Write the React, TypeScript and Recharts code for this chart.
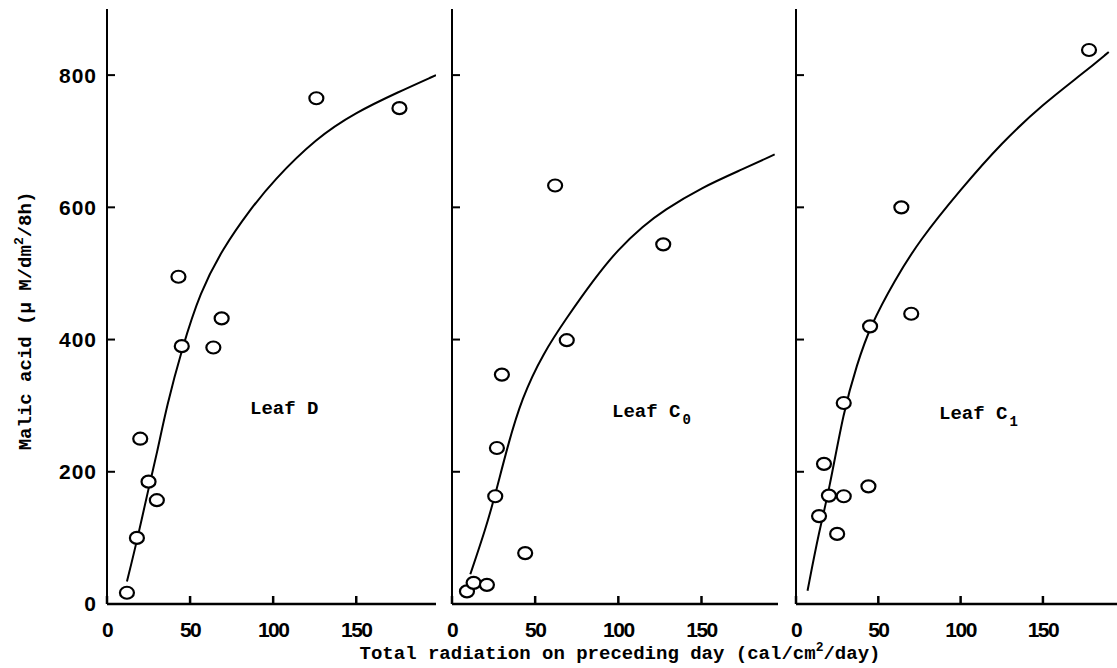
import { ComposedChart, Line, Scatter, XAxis, YAxis } from "recharts";

// Leaf D: measured points and fitted curve
const leafDX = [12, 18, 20, 25, 30, 43, 45, 64, 69, 126, 176];
const leafDY = [17, 100, 250, 185, 157, 495, 390, 388, 432, 765, 750];
const leafDFitX = [12, 18, 25, 30, 36, 45, 56, 70, 86, 100, 126, 150, 175, 198];
const leafDFitY = [34, 95, 175, 227, 300, 385, 472, 539, 596, 640, 705, 744, 774, 800];

// Leaf C0
const leafC0X = [9, 13, 21, 26, 27, 30, 44, 62, 69, 127];
const leafC0Y = [19, 32, 29, 163, 236, 347, 77, 633, 399, 544];
const leafC0FitX = [11, 20, 26, 33, 42, 55, 69, 85, 100, 115, 127, 150, 175, 194];
const leafC0FitY = [45, 112, 165, 235, 312, 380, 433, 490, 537, 572, 595, 630, 658, 680];

// Leaf C1
const leafC1X = [14, 17, 20, 25, 29, 29, 44, 45, 64, 70, 178];
const leafC1Y = [133, 212, 164, 106, 304, 163, 178, 420, 600, 439, 838];
const leafC1FitX = [7, 14, 20, 29, 37, 45, 60, 75, 100, 125, 150, 175, 190];
const leafC1FitY = [20, 110, 170, 293, 362, 420, 490, 550, 627, 698, 756, 804, 835];

const xTicks = [0, 50, 100, 150];
const yTicks = [0, 200, 400, 600, 800];

const toPoints = (xs: number[], ys: number[]) => xs.map((x, i) => ({ x, y: ys[i] }));

const tickFont = {
    fontFamily: "'Liberation Sans', Arial, sans-serif",
    fontSize: 21,
    fontWeight: 700,
    fill: "#000",
};

const Ring = (props: any) => (
    <ellipse
        cx={props.cx}
        cy={props.cy}
        rx={7}
        ry={6}
        fill="#fff"
        stroke="#000"
        strokeWidth={2.2}
    />
);

type PanelProps = {
    left: number;
    axisWidth: number;
    plotWidth: number;
    xMax: number;
    showYLabels: boolean;
    points: { x: number; y: number }[];
    fit: { x: number; y: number }[];
};

function Panel({ left, axisWidth, plotWidth, xMax, showYLabels, points, fit }: PanelProps) {
    const right = 4;
    return (
        <div style={{ position: "absolute", left, top: 0 }}>
            <ComposedChart
                width={axisWidth + plotWidth + right}
                height={668}
                margin={{ top: 9, right, bottom: 0, left: 0 }}
            >
                <XAxis
                    type="number"
                    dataKey="x"
                    domain={[0, xMax]}
                    ticks={xTicks}
                    allowDataOverflow
                    height={64}
                    stroke="#000"
                    strokeWidth={2.5}
                    tickSize={-8}
                    tickMargin={26}
                    tick={{ ...tickFont, letterSpacing: -1.5 }}
                />
                <YAxis
                    type="number"
                    dataKey="y"
                    domain={[0, 900]}
                    ticks={yTicks}
                    allowDataOverflow
                    width={axisWidth}
                    stroke="#000"
                    strokeWidth={2}
                    tickSize={-8}
                    tickMargin={18}
                    tick={{ ...tickFont, letterSpacing: 1 }}
                    tickFormatter={(v: number) => (showYLabels ? String(v) : "")}
                />
                <Line
                    data={fit}
                    dataKey="y"
                    type="basis"
                    stroke="#000"
                    strokeWidth={2}
                    dot={false}
                    isAnimationActive={false}
                />
                <Scatter data={points} dataKey="y" shape={Ring} isAnimationActive={false} />
            </ComposedChart>
        </div>
    );
}

export default function App() {
    const mono = "'Liberation Mono', 'DejaVu Sans Mono', monospace";
    return (
        <div
            style={{
                position: "absolute",
                left: 0,
                top: 0,
                width: 1117,
                height: 668,
                background: "#fff",
                overflow: "hidden",
            }}
        >
            <Panel
                left={0}
                axisWidth={107}
                plotWidth={329}
                xMax={198}
                showYLabels
                points={toPoints(leafDX, leafDY)}
                fit={toPoints(leafDFitX, leafDFitY)}
            />
            <Panel
                left={442}
                axisWidth={10}
                plotWidth={326}
                xMax={196}
                showYLabels={false}
                points={toPoints(leafC0X, leafC0Y)}
                fit={toPoints(leafC0FitX, leafC0FitY)}
            />
            <Panel
                left={786}
                axisWidth={10}
                plotWidth={321}
                xMax={195}
                showYLabels={false}
                points={toPoints(leafC1X, leafC1Y)}
                fit={toPoints(leafC1FitX, leafC1FitY)}
            />
            <svg
                width={1117}
                height={668}
                style={{ position: "absolute", left: 0, top: 0, pointerEvents: "none" }}
                fontFamily={mono}
                fontWeight={700}
                fontSize={19}
            >
                <text
                    x={26}
                    y={321}
                    textAnchor="middle"
                    dominantBaseline="central"
                    transform="rotate(-90 26 321)"
                >
                    Malic acid (μ M/dm
                    <tspan dy={-7} fontSize={13}>2</tspan>
                    <tspan dy={7}>/8h)</tspan>
                </text>
                <text x={620} y={659} textAnchor="middle">
                    Total radiation on preceding day (cal/cm
                    <tspan dy={-8} fontSize={13}>2</tspan>
                    <tspan dy={8}>/day)</tspan>
                </text>
                <text x={250} y={414}>Leaf D</text>
                <text x={612} y={417}>
                    Leaf C
                    <tspan dx={2} dy={7} fontSize={14}>0</tspan>
                </text>
                <text x={939} y={419}>
                    Leaf C
                    <tspan dx={2} dy={7} fontSize={14}>1</tspan>
                </text>
            </svg>
        </div>
    );
}
